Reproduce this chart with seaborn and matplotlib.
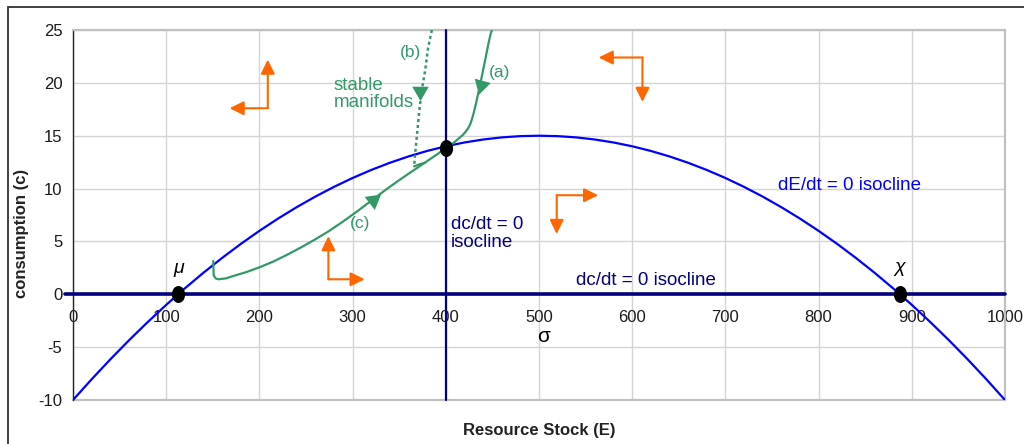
import matplotlib
matplotlib.use("Agg")
import matplotlib.pyplot as plt
import seaborn as sns
import numpy as np
import pandas as pd
from matplotlib.markers import MarkerStyle
from matplotlib.transforms import Affine2D
from matplotlib.patches import Rectangle

# ---------------- data ----------------
# dE/dt = 0 isocline (blue parabola)
iso_E = [0, 20, 40, 60, 80, 100, 120, 140, 160, 180, 200, 220, 240, 260, 280,
         300, 320, 340, 360, 380, 400, 420, 440, 460, 480, 500, 520, 540, 560,
         580, 600, 620, 640, 660, 680, 700, 720, 740, 760, 780, 800, 820, 840,
         860, 880, 900, 920, 940, 960, 980, 1000]
iso_c = [-10, -8.04, -6.16, -4.36, -2.64, -1, 0.56, 2.04, 3.44, 4.76, 6, 7.16,
         8.24, 9.24, 10.16, 11, 11.76, 12.44, 13.04, 13.56, 14, 14.36, 14.64,
         14.84, 14.96, 15, 14.96, 14.84, 14.64, 14.36, 14, 13.56, 13.04, 12.44,
         11.76, 11, 10.16, 9.24, 8.24, 7.16, 6, 4.76, 3.44, 2.04, 0.56, -1,
         -2.64, -4.36, -6.16, -8.04, -10]

# stable manifold (a)
man_a_E = [400, 405, 410, 414, 418, 421, 424, 426.5, 428.5, 430.5, 432.5, 435,
           437.5, 440, 442.8, 445.5, 448, 449.5]
man_a_c = [13.8, 14.1, 14.45, 14.75, 15.05, 15.35, 15.7, 16.15, 16.7, 17.35,
           18.1, 19.1, 20.1, 21.2, 22.4, 23.6, 24.6, 25]
# stable manifold (b): dotted part + short solid end
man_b_E = [385, 381, 377.7, 374, 371.5, 369.4, 367, 366]
man_b_c = [25, 23.3, 21.1, 19.2, 17.3, 15.4, 13.2, 12.1]
man_b2_E = [366, 372, 378]
man_b2_c = [12.1, 12.3, 12.45]
# stable manifold (c)
man_c_E = [150.5, 150.7, 151, 153, 156, 164, 172, 186, 200, 215, 230, 245, 260,
           275, 290, 305, 320, 335, 350, 365, 380, 400]
man_c_c = [3.15, 2.4, 1.8, 1.5, 1.42, 1.5, 1.73, 2.1, 2.55, 3.1, 3.75, 4.45,
           5.2, 6.0, 6.9, 7.85, 8.85, 9.85, 10.8, 11.7, 12.6, 13.8]

# arrowheads on manifolds: (E, c, direction in degrees)
head_E = [437.8, 372.3, 322]
head_c = [19.8, 19.2, 8.95]
head_dir = [15, -90, 38]

# points: equilibrium, mu, chi
pt_E = [400, 113, 887]
pt_c = [13.8, 0, 0]

# orange direction arrows: vertex and two tips
arr_vx = [209, 611, 519, 274]
arr_vy = [17.6, 22.4, 9.37, 1.42]
arr_hx = [168, 564, 563.5, 313]    # horizontal tip x
arr_vt = [22.2, 18.2, 5.7, 5.5]    # vertical tip y

x_ticks = [0, 100, 200, 300, 400, 500, 600, 700, 800, 900, 1000]
y_ticks = [-10, -5, 0, 5, 10, 15, 20, 25]

# ---------------- style ----------------
sns.set_style("white")
plt.rcParams['font.family'] = ['Liberation Sans', 'DejaVu Sans']

GREEN = "#339966"
NAVY = "#000080"
BLUE = "#0000FF"
ORANGE = "#FF6600"
GRID = "#d4d4d4"

W, H = 1024, 444
fig = plt.figure(figsize=(W / 100, H / 100), dpi=100)
ax = fig.add_axes([73 / W, 1 - 400 / H, (1005 - 73) / W, (400 - 30) / H])

ax.set_xlim(0, 1000)
ax.set_ylim(-10, 25)
ax.set_xticks(x_ticks)
ax.set_yticks(y_ticks)
ax.grid(True, color=GRID, lw=1.0, zorder=0)
ax.set_axisbelow(True)

for s in ['top', 'right']:
    ax.spines[s].set_color("#c0c0c0")
    ax.spines[s].set_linewidth(1.6)
ax.spines['left'].set_color("#222222")
ax.spines['left'].set_linewidth(1.0)
ax.spines['bottom'].set_position(('data', 0))
ax.spines['bottom'].set_color("#222222")
ax.axhline(-10, color="#c0c0c0", lw=1.6, clip_on=False, zorder=1)

ax.tick_params(axis='y', direction='out', length=3.6, width=1, color="#222222",
               labelsize=12, labelcolor="#1a1a1a", pad=4)
ax.tick_params(axis='x', direction='out', length=3, width=1, color="#444444",
               labelsize=12, labelcolor="#1a1a1a", pad=8)
ax.set_xticklabels([str(v) for v in x_ticks])
ax.set_yticklabels([str(v) for v in y_ticks])

# isoclines
sns.lineplot(x=iso_E, y=iso_c, ax=ax, color=BLUE, lw=1.6, sort=False,
             estimator=None, zorder=3)
ax.axvline(400, color=NAVY, lw=1.6, zorder=3, clip_on=False)
ax.axhline(0, xmin=-0.0086, xmax=1.0, color=NAVY, lw=2.6, zorder=3, clip_on=False)

# manifolds
sns.lineplot(x=man_a_E, y=man_a_c, ax=ax, color=GREEN, lw=1.6, sort=False,
             estimator=None, zorder=4)
sns.lineplot(x=man_b_E, y=man_b_c, ax=ax, color=GREEN, lw=1.8, sort=False,
             estimator=None, zorder=4, linestyle=(0, (1.2, 1.2)))
sns.lineplot(x=man_b2_E, y=man_b2_c, ax=ax, color=GREEN, lw=1.6, sort=False,
             estimator=None, zorder=4)
sns.lineplot(x=man_c_E, y=man_c_c, ax=ax, color=GREEN, lw=1.6, sort=False,
             estimator=None, zorder=4)

for e, c, d in zip(head_E, head_c, head_dir):
    sns.scatterplot(x=[e], y=[c], ax=ax, marker=(3, 0, d - 90), s=190,
                    color=GREEN, edgecolor=GREEN, linewidth=0, zorder=5)

# points
dot = MarkerStyle('o', transform=Affine2D().scale(0.78, 1.0))
sns.scatterplot(x=pt_E, y=pt_c, ax=ax, marker=dot, s=150, color='black',
                edgecolor='black', linewidth=0, zorder=6, clip_on=False)

# orange arrows
aprops = dict(arrowstyle='-|>,head_length=0.85,head_width=0.42', color=ORANGE,
              lw=1.5, mutation_scale=10, shrinkA=0, shrinkB=0)
for vx, vy, hx, vt in zip(arr_vx, arr_vy, arr_hx, arr_vt):
    ax.annotate('', xy=(hx, vy), xytext=(vx, vy), arrowprops=aprops, zorder=5)
    ax.annotate('', xy=(vx, vt), xytext=(vx, vy), arrowprops=aprops, zorder=5)

# texts
FS = 13.5
ax.text(458, 21.0, "(a)", color=GREEN, fontsize=12.5, ha='center', va='center')
ax.text(362, 22.9, "(b)", color=GREEN, fontsize=12.5, ha='center', va='center')
ax.text(308, 6.7, "(c)", color=GREEN, fontsize=12.5, ha='center', va='center')
ax.text(280, 18.9, "stable\nmanifolds", color=GREEN, fontsize=FS, ha='left',
        va='center', linespacing=1.0)
ax.text(756, 10.25, "dE/dt = 0 isocline", color=BLUE, fontsize=FS, ha='left',
        va='center')
ax.text(540, 1.3, "dc/dt = 0 isocline", color=NAVY, fontsize=FS, ha='left',
        va='center')
ax.text(405.5, 5.75, "dc/dt = 0\nisocline", color=NAVY, fontsize=FS, ha='left',
        va='center', linespacing=1.05)
ax.text(113, 2.4, "μ", color='black', fontsize=14, style='italic',
        ha='center', va='center')
ax.text(887, 2.5, "χ", color='black', fontsize=14, style='italic',
        ha='center', va='center')
ax.text(504.5, -3.95, "σ", color='black', fontsize=15, ha='center', va='center')

fig.text(539 / W, 1 - 430 / H, "Resource Stock (E)", fontsize=12, fontweight='bold',
         color="#222222", ha='center', va='center')
fig.text(22 / W, 1 - 233 / H, "consumption (c)", fontsize=12, fontweight='bold',
         color="#222222", ha='center', va='center', rotation=90)

# outer chart frame
fig.patches.append(Rectangle((8 / W, -0.1), 1.2, (1 - 7.5 / H) + 0.1,
                             transform=fig.transFigure, fill=False,
                             edgecolor="#333333", lw=1.3))

fig.savefig("out.png", dpi=100)
